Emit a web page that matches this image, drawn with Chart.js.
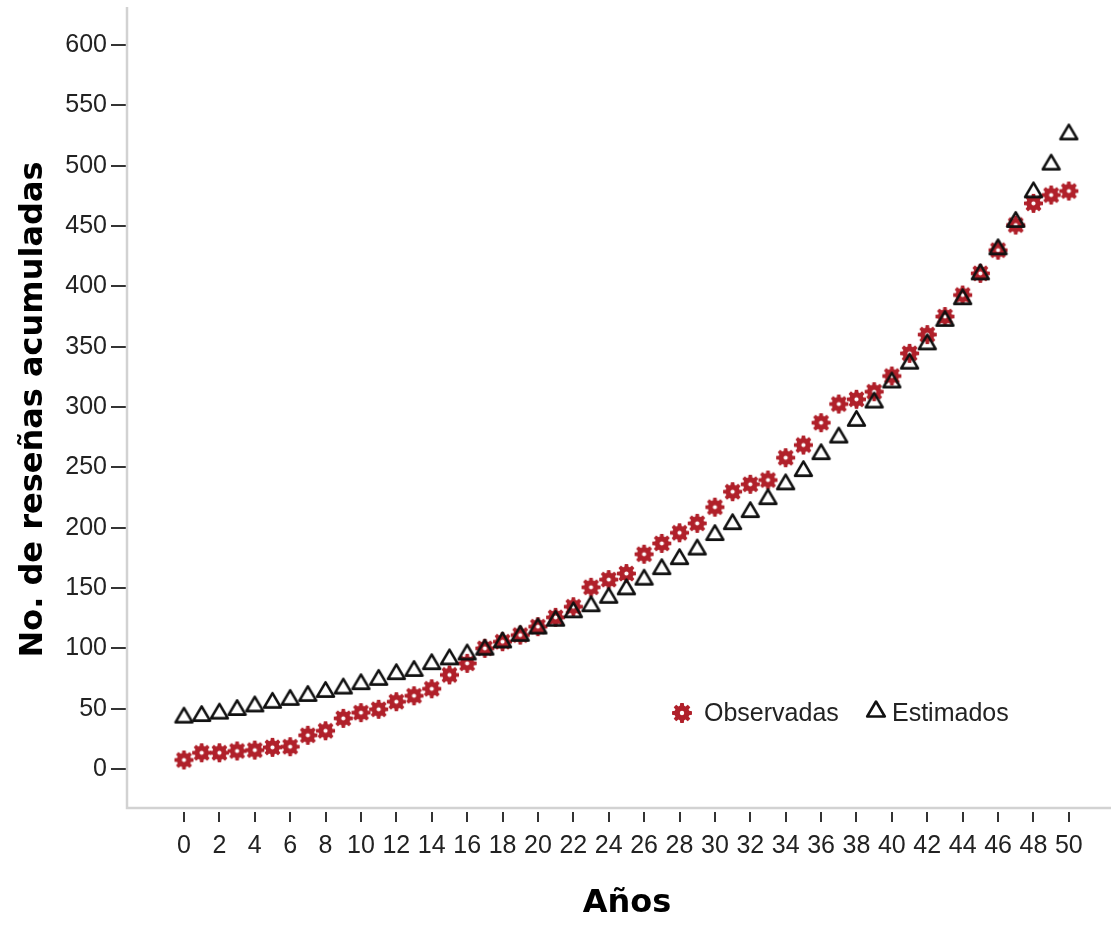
<!DOCTYPE html>
<html>
<head>
<meta charset="utf-8">
<title>Reseñas acumuladas</title>
<script src="https://cdn.jsdelivr.net/npm/chart.js@4.4.1/dist/chart.umd.min.js"></script>
<style>
  html, body { margin: 0; padding: 0; background: #fff; }
  #wrap { width: 1111px; height: 926px; position: relative; }
</style>
</head>
<body>
<div id="wrap"><canvas id="chart"></canvas></div>
<script>
// datos
const years = [0,1,2,3,4,5,6,7,8,9,10,11,12,13,14,15,16,17,18,19,20,21,22,23,24,25,
  26,27,28,29,30,31,32,33,34,35,36,37,38,39,40,41,42,43,44,45,46,47,48,49,50];
const observadas = [7.5,13.5,13.5,15,15.7,18,18.5,28,31.7,42,46.7,49.5,55.8,60.7,66.5,78,
  87.6,100,105.5,111,118,125.7,134.5,150.6,157,162,178,187,195.8,203.6,217,229.8,236,239.5,
  258,268.5,287,302.5,306.4,312.7,325.7,344.5,360,375,392.8,410.8,430,450.8,468.8,475.7,479];
const estimados = [44.7,46,48,51,54,57,59.4,62.7,66,68.8,72.4,76,80.7,83.4,89,93,97,101,107,
  112.5,118.5,125,132,137,144,151,159,167.7,176,184,196,205,215,225.7,238,249,263,276.8,
  290.6,305.8,322.4,338,354,373.5,391.4,412,432.8,455.5,480,503,528];
const xTicks = [0,2,4,6,8,10,12,14,16,18,20,22,24,26,28,30,32,34,36,38,40,42,44,46,48,50];
const yTicks = [0,50,100,150,200,250,300,350,400,450,500,550,600];

const RED = '#b0202a';
const TICK_FONT = { family: "'Liberation Sans', Arial, sans-serif", size: 25 };
const TITLE_FONT = { family: "'DejaVu Sans', Verdana, sans-serif", size: 32, weight: 'bold', lineHeight: 1.2 };

/** marcador en forma de engranaje (Observadas) */
function makeGear(size) {
  const c = document.createElement('canvas');
  c.width = c.height = size;
  const g = c.getContext('2d');
  const cx = size / 2, cy = size / 2;
  const ro = size * 0.46, ri = size * 0.34, hole = size * 0.1;
  const deg = Math.PI / 180;
  g.beginPath();
  for (let k = 0; k < 8; k++) {
    const a = k * 45 * deg - Math.PI / 2;
    const pts = [[ro, a - 10 * deg], [ro, a + 10 * deg], [ri, a + 17 * deg], [ri, a + 28 * deg]];
    pts.forEach(([r, t], j) => {
      const px = cx + r * Math.cos(t), py = cy + r * Math.sin(t);
      if (k === 0 && j === 0) g.moveTo(px, py); else g.lineTo(px, py);
    });
  }
  g.closePath();
  g.moveTo(cx + hole, cy);
  g.arc(cx, cy, hole, 0, Math.PI * 2, true);
  g.fillStyle = RED;
  g.fill('evenodd');
  return c;
}

/** triángulo hueco (Estimados) */
function makeTriangle(size) {
  const c = document.createElement('canvas');
  c.width = c.height = size;
  const g = c.getContext('2d');
  const w = size * 0.8, h = size * 0.68;
  const cx = size / 2, top = (size - h) / 2;
  g.beginPath();
  g.moveTo(cx, top);
  g.lineTo(cx + w / 2, top + h);
  g.lineTo(cx - w / 2, top + h);
  g.closePath();
  g.lineWidth = 2.6;
  g.lineJoin = 'round';
  g.strokeStyle = '#111';
  g.stroke();
  return c;
}

const gearImg = makeGear(21);
const triImg = makeTriangle(21);
const gearLegend = makeGear(22);
const triLegend = makeTriangle(22);

/** marco gris claro estilo SPSS */
const framePlugin = {
  id: 'frame',
  beforeDatasetsDraw(chart) {
    const { ctx, chartArea: a } = chart;
    const yb = a.bottom - 4;
    ctx.save();
    ctx.strokeStyle = '#d2d2d2';
    ctx.lineWidth = 2.5;
    ctx.beginPath();
    ctx.moveTo(a.left, a.top);
    ctx.lineTo(a.left, yb);
    ctx.lineTo(chart.width, yb);
    ctx.stroke();
    ctx.restore();
  }
};

/** leyenda dentro del área y título del eje X */
const legendPlugin = {
  id: 'innerLegend',
  afterDraw(chart) {
    const { ctx, chartArea: a } = chart;
    const y = a.top + 706;
    ctx.save();
    ctx.font = "25px 'Liberation Sans', Arial, sans-serif";
    ctx.fillStyle = '#222';
    ctx.textBaseline = 'middle';
    ctx.drawImage(gearLegend, a.left + 544, y - 11);
    ctx.fillText('Observadas', a.left + 577, y + 1);
    ctx.drawImage(triLegend, a.left + 738, y - 15);
    ctx.fillText('Estimados', a.left + 765, y + 1);

    ctx.font = "bold 32px 'DejaVu Sans', Verdana, sans-serif";
    ctx.fillStyle = '#000';
    ctx.textAlign = 'center';
    ctx.fillText('Años', (a.left + chart.width) / 2 + 8, chart.height - 22);
    ctx.restore();
  }
};

new Chart(document.getElementById('chart'), {
  type: 'scatter',
  data: {
    datasets: [
      {
        label: 'Observadas',
        data: years.map((x, i) => ({ x, y: observadas[i] })),
        pointStyle: gearImg,
        order: 2
      },
      {
        label: 'Estimados',
        data: years.map((x, i) => ({ x, y: estimados[i] })),
        pointStyle: triImg,
        order: 1
      }
    ]
  },
  options: {
    responsive: true,
    maintainAspectRatio: false,
    animation: false,
    layout: { padding: { top: 7, right: 0, bottom: 0, left: 0 } },
    plugins: {
      legend: { display: false },
      tooltip: { enabled: false }
    },
    scales: {
      x: {
        type: 'linear',
        min: -3.22,
        max: 52.1,
        afterBuildTicks: s => { s.ticks = xTicks.map(v => ({ value: v })); },
        afterFit: s => { s.height = 114; s.paddingLeft = 0; s.paddingRight = 0; },
        border: { display: false },
        grid: { drawOnChartArea: false, color: '#333', lineWidth: 2, tickLength: 10 },
        ticks: { autoSkip: false, maxRotation: 0, font: TICK_FONT, color: '#222', padding: 9 },
        title: { display: false }
      },
      y: {
        min: -35.6,
        max: 631.5,
        afterBuildTicks: s => { s.ticks = yTicks.map(v => ({ value: v })); },
        afterFit: s => { s.width = 127; s.paddingTop = 0; s.paddingBottom = 0; },
        border: { display: false },
        grid: { drawOnChartArea: false, color: '#333', lineWidth: 2, tickLength: 16 },
        ticks: { font: TICK_FONT, color: '#222', padding: 4 },
        title: { display: true, text: 'No. de reseñas acumuladas', font: TITLE_FONT, color: '#000', padding: { top: 14, bottom: 0 } }
      }
    }
  },
  plugins: [framePlugin, legendPlugin]
});
</script>
</body>
</html>
